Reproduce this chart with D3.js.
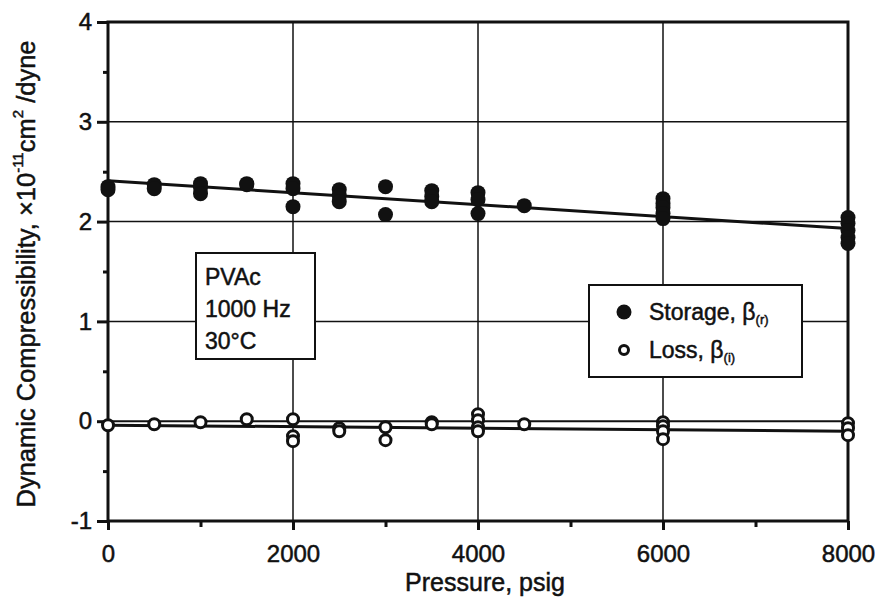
<!DOCTYPE html>
<html>
<head>
<meta charset="utf-8">
<script src="https://cdn.jsdelivr.net/npm/d3@7"></script>
<style>
  body { margin: 0; background: #fff; }
  text { font-family: "Liberation Sans", Arial, Helvetica, sans-serif; fill: #111; stroke: #111; stroke-width: 0.5px; }
</style>
</head>
<body>
<div id="chart"></div>
<script>
// pressure (psig) and dynamic compressibility (x1e-11 cm^2/dyne)
var storageP = [0, 0, 500, 500, 1000, 1000, 1000, 1500, 1500, 2000, 2000, 2000,
                2500, 2500, 2500, 3000, 3000, 3500, 3500, 3500, 4000, 4000, 4000, 4500,
                6000, 6000, 6000, 6000, 6000, 8000, 8000, 8000, 8000, 8000];
var storageB = [2.35, 2.32, 2.37, 2.33, 2.38, 2.34, 2.28, 2.38, 2.37, 2.38, 2.33, 2.15,
                2.32, 2.26, 2.20, 2.35, 2.07, 2.31, 2.25, 2.20, 2.29, 2.22, 2.08, 2.16,
                2.23, 2.18, 2.14, 2.08, 2.03, 2.04, 1.98, 1.91, 1.84, 1.78];
var lossP = [0, 500, 1000, 1500, 2000, 2000, 2000, 2500, 2500, 3000, 3000, 3500, 3500,
             4000, 4000, 4000, 4000, 4500, 6000, 6000, 6000, 6000, 8000, 8000, 8000];
var lossB = [-0.04, -0.03, -0.01, 0.02, 0.02, -0.15, -0.20, -0.07, -0.10, -0.06, -0.19, -0.01, -0.03,
             0.07, 0.01, -0.06, -0.10, -0.03, -0.01, -0.05, -0.10, -0.18, -0.02, -0.07, -0.14];
var fitP = [0, 8000];
var storageFit = [2.41, 1.93];
var lossFit = [-0.04, -0.10];
var xMajor = [0, 2000, 4000, 6000, 8000];
var xMinor = [1000, 3000, 5000, 7000];
var yMajor = [-1, 0, 1, 2, 3, 4];
var yMinor = [-0.5, 0.5, 1.5, 2.5, 3.5];
var infoLines = ["PVAc", "1000 Hz", "30\u00B0C"];

var draw = function() {
  var width = 875, height = 608;
  var x0 = 108, x1 = 848, y0 = 22, y1 = 521;

  var svg = d3.select("#chart").append("svg")
    .attr("width", width)
    .attr("height", height);

  var x = d3.scaleLinear().domain([0, 8000]).range([x0, x1]);
  var y = d3.scaleLinear().domain([-1, 4]).range([y1, y0]);

  // grid
  svg.append("g").selectAll("line")
    .data([2000, 4000, 6000])
    .enter().append("line")
    .attr("x1", function(d) { return x(d); })
    .attr("x2", function(d) { return x(d); })
    .attr("y1", y0).attr("y2", y1)
    .style("stroke", "#111").style("stroke-width", 1.5);
  svg.append("g").selectAll("line")
    .data([0, 1, 2, 3])
    .enter().append("line")
    .attr("x1", x0).attr("x2", x1)
    .attr("y1", function(d) { return y(d); })
    .attr("y2", function(d) { return y(d); })
    .style("stroke", "#111").style("stroke-width", function(d) { return d === 0 ? 2 : 1.5; });

  // axes
  var plain = function(d) { return String(d); };
  svg.append("g")
    .attr("transform", "translate(0," + y1 + ")")
    .call(d3.axisBottom(x).tickValues(xMajor).tickSize(9).tickPadding(15).tickFormat(plain));
  svg.append("g")
    .attr("transform", "translate(0," + y1 + ")")
    .call(d3.axisBottom(x).tickValues(xMinor).tickSize(6).tickFormat(""));
  svg.append("g")
    .attr("transform", "translate(" + x0 + ",0)")
    .call(d3.axisLeft(y).tickValues(yMajor).tickSize(11).tickPadding(5).tickFormat(plain));
  svg.append("g")
    .attr("transform", "translate(" + x0 + ",0)")
    .call(d3.axisLeft(y).tickValues(yMinor).tickSize(5).tickFormat(""));

  svg.selectAll(".domain").remove();
  svg.selectAll(".tick line").style("stroke", "#111").style("stroke-width", 3);
  svg.selectAll(".tick text").style("font-size", "24px").style("fill", "#111");

  // frame
  svg.append("rect")
    .attr("x", x0).attr("y", y0)
    .attr("width", x1 - x0).attr("height", y1 - y0)
    .style("fill", "none").style("stroke", "#111").style("stroke-width", 3);

  // fit lines
  var line = d3.line()
    .x(function(d) { return x(d[0]); })
    .y(function(d) { return y(d[1]); });
  svg.append("path")
    .datum(d3.zip(fitP, storageFit))
    .attr("d", line)
    .style("fill", "none").style("stroke", "#111").style("stroke-width", 3);
  svg.append("path")
    .datum(d3.zip(fitP, lossFit))
    .attr("d", line)
    .style("fill", "none").style("stroke", "#111").style("stroke-width", 3);

  // storage points
  svg.append("g").selectAll("circle")
    .data(d3.zip(storageP, storageB))
    .enter().append("circle")
    .attr("cx", function(d) { return x(d[0]); })
    .attr("cy", function(d) { return y(d[1]); })
    .attr("r", 7.5)
    .style("fill", "#111");

  // loss points
  svg.append("g").selectAll("circle")
    .data(d3.zip(lossP, lossB))
    .enter().append("circle")
    .attr("cx", function(d) { return x(d[0]); })
    .attr("cy", function(d) { return y(d[1]); })
    .attr("r", 5.5)
    .style("fill", "#fff").style("stroke", "#111").style("stroke-width", 3);

  // info box
  svg.append("rect")
    .attr("x", 196).attr("y", 253).attr("width", 119).attr("height", 106)
    .style("fill", "#fff").style("stroke", "#111").style("stroke-width", 2);
  svg.append("g").selectAll("text")
    .data(infoLines)
    .enter().append("text")
    .attr("x", 205)
    .attr("y", function(d, i) { return 285 + i * 32; })
    .style("font-size", "23px")
    .text(function(d) { return d; });

  // legend
  var legend = svg.append("g");
  legend.append("rect")
    .attr("x", 589).attr("y", 285).attr("width", 213).attr("height", 92)
    .style("fill", "#fff").style("stroke", "#111").style("stroke-width", 2);
  legend.append("circle").attr("cx", 624).attr("cy", 312).attr("r", 7.5).style("fill", "#111");
  legend.append("circle").attr("cx", 624).attr("cy", 350).attr("r", 4.5)
    .style("fill", "#fff").style("stroke", "#111").style("stroke-width", 3);
  var t1 = legend.append("text").attr("x", 649).attr("y", 320).style("font-size", "23px");
  t1.append("tspan").text("Storage,  \u03B2");
  t1.append("tspan").attr("dy", 4).style("font-size", "13px").text("(r)");
  var t2 = legend.append("text").attr("x", 649).attr("y", 358).style("font-size", "23px");
  t2.append("tspan").text("Loss, \u03B2");
  t2.append("tspan").attr("dy", 4).style("font-size", "13px").text("(i)");

  // axis titles
  svg.append("text")
    .attr("x", (x0 + x1) / 2 + 7)
    .attr("y", 591)
    .attr("text-anchor", "middle")
    .style("font-size", "25px")
    .text("Pressure, psig");

  var yt = svg.append("text")
    .attr("transform", "translate(35,274) rotate(-90)")
    .attr("text-anchor", "middle")
    .style("font-size", "25.5px");
  yt.append("tspan").text("Dynamic Compressibility,  \u00D710");
  yt.append("tspan").attr("dy", -12).style("font-size", "15px").text("-11");
  yt.append("tspan").attr("dy", 12).text("cm");
  yt.append("tspan").attr("dy", -12).style("font-size", "15px").text("2");
  yt.append("tspan").attr("dy", 12).text(" /dyne");
};
draw();
</script>
</body>
</html>
